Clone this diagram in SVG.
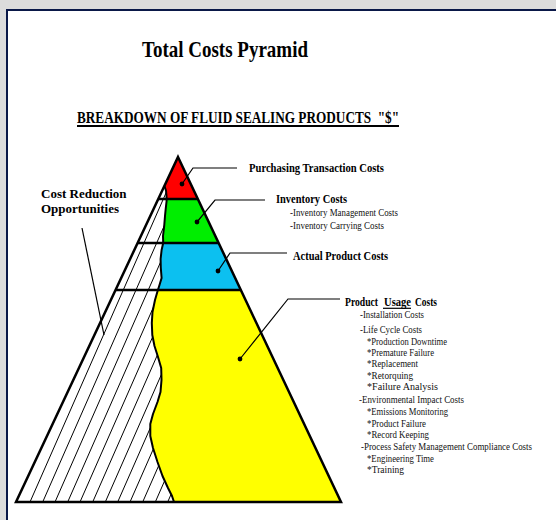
<svg xmlns="http://www.w3.org/2000/svg" width="556" height="520" viewBox="0 0 556 520">
<style>
.t{font-family:"Liberation Serif","Times New Roman",serif;fill:#000}
.b{font-weight:bold}
.h{font-size:12px;font-weight:bold}
.s{font-size:10.5px;fill:#111}
.u{font-size:9.5px;fill:#111}
.edge{fill:none;stroke:#000;stroke-width:2.5;stroke-linejoin:miter}
.sep{stroke:#000;stroke-width:2.5}
.hat{stroke:#000;stroke-width:1}
.lead{fill:none;stroke:#000;stroke-width:1.2}
.dot{fill:#000}
</style>
<defs>
<clipPath id="colClip"><path d="M178,157 L341,502 L174,502 L172,496 168,488 162.5,476 157.5,462 153,448 150.3,436 150.3,424 153,414 157.5,402 160.5,392 161.5,380 161.2,368 158,357 154.5,346 152.3,335 151.8,323 152.5,312 155,300 157.6,291 159.5,285 161.6,278 160.8,268 160.6,259 161.6,250 163.2,243 163,236 164.2,226 165,216 165.8,208 166.6,201 166.5,196 166,190.5 164.4,186 Z"/></clipPath>
<clipPath id="hatClip"><path d="M164.4,186 L166,190.5 166.5,196 166.6,201 165.8,208 165,216 164.2,226 163,236 163.2,243 161.6,250 160.6,259 160.8,268 161.6,278 159.5,285 157.6,291 155,300 152.5,312 151.8,323 152.3,335 154.5,346 158,357 161.2,368 161.5,380 160.5,392 157.5,402 153,414 150.3,424 150.3,436 153,448 157.5,462 162.5,476 168,488 172,496 174,502 L16,502 Z"/></clipPath>
</defs>
<g id="frame">
<rect x="0" y="0" width="556" height="520" fill="#dcdcdc"/>
<rect x="7" y="10" width="560" height="520" fill="#fff" stroke="#0a1848" stroke-width="2"/>
</g>
<g id="title">
<text class="t b" x="142" y="57" font-size="24" textLength="166" lengthAdjust="spacingAndGlyphs">Total Costs Pyramid</text>
<text class="t b" x="77" y="123" font-size="16" textLength="322" lengthAdjust="spacingAndGlyphs">BREAKDOWN OF FLUID SEALING PRODUCTS &#160;"$"</text>
<line x1="77" y1="126" x2="399" y2="126" stroke="#000" stroke-width="1.8"/>
</g>
<g id="pyramid">
<path d="M178,157 L341,502 L16,502 Z" fill="#fff"/>
<g id="tier-purchasing" clip-path="url(#colClip)"><rect x="100" y="150" width="250" height="49" fill="#ff0000"/></g>
<g id="tier-inventory" clip-path="url(#colClip)"><rect x="100" y="199" width="250" height="44" fill="#00ee00"/></g>
<g id="tier-actual" clip-path="url(#colClip)"><rect x="100" y="243" width="250" height="47" fill="#0cc0f0"/></g>
<g id="tier-usage" clip-path="url(#colClip)"><rect x="10" y="290" width="340" height="215" fill="#ffff00"/></g>
<g id="hatch" clip-path="url(#hatClip)">
<line class="hat" x1="30" y1="502" x2="181.8" y2="157"/>
<line class="hat" x1="42.7" y1="502" x2="194.5" y2="157"/>
<line class="hat" x1="55" y1="502" x2="206.8" y2="157"/>
<line class="hat" x1="67.7" y1="502" x2="219.5" y2="157"/>
<line class="hat" x1="80" y1="502" x2="231.8" y2="157"/>
<line class="hat" x1="92.7" y1="502" x2="244.5" y2="157"/>
<line class="hat" x1="105.3" y1="502" x2="257.1" y2="157"/>
<line class="hat" x1="117.7" y1="502" x2="269.5" y2="157"/>
<line class="hat" x1="130" y1="502" x2="281.8" y2="157"/>
<line class="hat" x1="142.7" y1="502" x2="294.5" y2="157"/>
<line class="hat" x1="155.3" y1="502" x2="307.1" y2="157"/>
<line class="hat" x1="167.7" y1="502" x2="319.5" y2="157"/>
<line class="hat" x1="180" y1="502" x2="331.8" y2="157"/>
</g>
<path d="M164.4,186 L166,190.5 166.5,196 166.6,201 165.8,208 165,216 164.2,226 163,236 163.2,243 161.6,250 160.6,259 160.8,268 161.6,278 159.5,285 157.6,291 155,300 152.5,312 151.8,323 152.3,335 154.5,346 158,357 161.2,368 161.5,380 160.5,392 157.5,402 153,414 150.3,424 150.3,436 153,448 157.5,462 162.5,476 168,488 172,496 174,502" fill="none" stroke="#000" stroke-width="2" stroke-linejoin="round"/>
<line class="sep" x1="158.3" y1="199" x2="197.8" y2="199"/>
<line class="sep" x1="137.6" y1="243" x2="218.6" y2="243"/>
<line class="sep" x1="115.5" y1="290" x2="240.8" y2="290"/>
<path class="edge" d="M178,157 L341,502 L16,502 Z"/>
</g>
<g id="connectors">
<path class="lead" d="M182,184 L193,168 L237,168"/>
<circle class="dot" cx="182" cy="184" r="2.4"/>
<path class="lead" d="M197,222 L215,200 L265,200"/>
<circle class="dot" cx="197" cy="222" r="2.4"/>
<path class="lead" d="M218,271 L230,253 L287,253"/>
<circle class="dot" cx="218" cy="271" r="2.4"/>
<path class="lead" d="M240,359 L288,299 L340,299"/>
<circle class="dot" cx="240" cy="359" r="2.4"/>
<line class="lead" x1="82" y1="228" x2="104" y2="335"/>
</g>
<g id="label-cost-reduction">
<text class="t b" x="41" y="198" font-size="13">Cost Reduction</text>
<text class="t b" x="41" y="213" font-size="13">Opportunities</text>
</g>
<g id="label-purchasing">
<text class="t h" x="249" y="172" textLength="135" lengthAdjust="spacingAndGlyphs">Purchasing Transaction Costs</text>
</g>
<g id="label-inventory">
<text class="t h" x="276" y="203" textLength="71" lengthAdjust="spacingAndGlyphs">Inventory Costs</text>
<text class="t s" x="290" y="216" textLength="108" lengthAdjust="spacingAndGlyphs">-Inventory Management Costs</text>
<text class="t s" x="290" y="229" textLength="94" lengthAdjust="spacingAndGlyphs">-Inventory Carrying Costs</text>
</g>
<g id="label-actual">
<text class="t h" x="293" y="260" textLength="95" lengthAdjust="spacingAndGlyphs">Actual Product Costs</text>
</g>
<g id="label-usage">
<text class="t h" x="345" y="306" textLength="33" lengthAdjust="spacingAndGlyphs">Product</text>
<text class="t h" x="384" y="306" textLength="27" lengthAdjust="spacingAndGlyphs">Usage</text>
<text class="t h" x="415" y="306" textLength="22" lengthAdjust="spacingAndGlyphs">Costs</text>
<line x1="383" y1="308.3" x2="411" y2="308.3" stroke="#000" stroke-width="1.2"/>
<text class="t u" x="360" y="318" textLength="64" lengthAdjust="spacingAndGlyphs">-Installation Costs</text>
<text class="t u" x="360" y="333" textLength="62" lengthAdjust="spacingAndGlyphs">-Life Cycle Costs</text>
<text class="t u" x="367" y="345" textLength="80" lengthAdjust="spacingAndGlyphs">*Production Downtime</text>
<text class="t u" x="367" y="356" textLength="67" lengthAdjust="spacingAndGlyphs">*Premature Failure</text>
<text class="t u" x="367" y="367" textLength="51" lengthAdjust="spacingAndGlyphs">*Replacement</text>
<text class="t u" x="367" y="379" textLength="46" lengthAdjust="spacingAndGlyphs">*Retorquing</text>
<text class="t u" x="367" y="390" textLength="71" lengthAdjust="spacingAndGlyphs">*Failure Analysis</text>
<text class="t u" x="359" y="403" textLength="105" lengthAdjust="spacingAndGlyphs">-Environmental Impact Costs</text>
<text class="t u" x="367" y="415" textLength="81" lengthAdjust="spacingAndGlyphs">*Emissions Monitoring</text>
<text class="t u" x="367" y="427" textLength="59" lengthAdjust="spacingAndGlyphs">*Product Failure</text>
<text class="t u" x="367" y="438" textLength="62" lengthAdjust="spacingAndGlyphs">*Record Keeping</text>
<text class="t u" x="361" y="450" textLength="171" lengthAdjust="spacingAndGlyphs">-Process Safety Management Compliance Costs</text>
<text class="t u" x="367" y="462" textLength="67" lengthAdjust="spacingAndGlyphs">*Engineering Time</text>
<text class="t u" x="367" y="473" textLength="37" lengthAdjust="spacingAndGlyphs">*Training</text>
</g>
</svg>
